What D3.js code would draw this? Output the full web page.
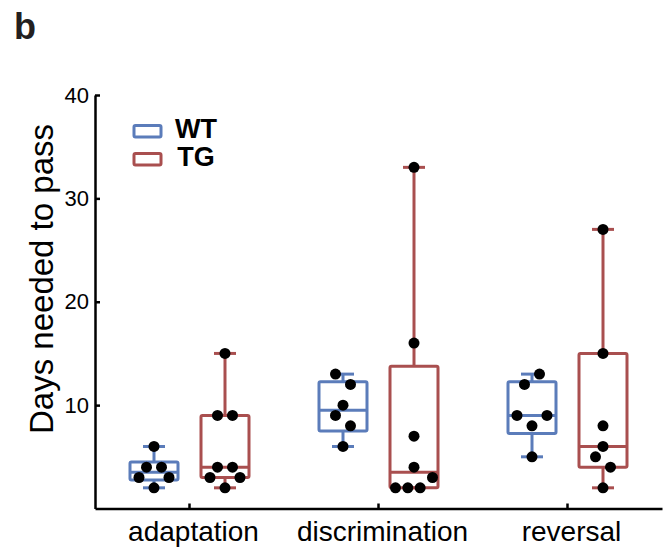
<!DOCTYPE html>
<html>
<head>
<meta charset="utf-8">
<script src="https://cdn.jsdelivr.net/npm/d3@7"></script>
<style>
  html, body { margin: 0; padding: 0; background: #fff; }
  svg { display: block; font-family: "Liberation Sans", Arial, Helvetica, sans-serif; }
</style>
</head>
<body>
<svg id="chart" width="669" height="551"></svg>
<script>
// Days needed to pass each training stage, per animal
const categories = ["adaptation", "discrimination", "reversal"];
const groups = ["WT", "TG"];
const wtValues = [
  [6, 4, 4, 3, 2, 3],
  [13, 12, 10, 9, 8, 6],
  [12, 13, 9, 8, 9, 5]
];
const tgValues = [
  [15, 9, 9, 4, 4, 3, 2, 3],
  [33, 16, 7, 4, 2, 2, 2, 3],
  [27, 15, 8, 6, 5, 4, 2]
];
const yTicks = [10, 20, 30, 40];
const groupColors = ["#5b7cba", "#a94f4f"];

const svg = d3.select("#chart");

const y = d3.scaleLinear().domain([0, 40]).range([508.5, 95]);
const x = d3.scaleBand().domain(categories).range([95, 662]).padding(0);
const xSub = d3.scalePoint().domain(groups).range([-35.5, 35.5]);
const color = d3.scaleOrdinal().domain(groups).range(groupColors);

// quartiles using the (n+1)p position rule
function quantile(sorted, p) {
  const n = sorted.length;
  const pos = p * (n + 1);
  if (pos <= 1) return sorted[0];
  if (pos >= n) return sorted[n - 1];
  const lo = Math.floor(pos);
  const f = pos - lo;
  return sorted[lo - 1] + f * (sorted[lo] - sorted[lo - 1]);
}

// one record per box
const boxes = [];
categories.forEach((cat, ci) => {
  [wtValues[ci], tgValues[ci]].forEach((vals, gi) => {
    const s = vals.slice().sort(d3.ascending);
    boxes.push({
      cat, group: groups[gi], values: vals,
      min: s[0], max: s[s.length - 1],
      q1: quantile(s, 0.25), med: d3.median(s), q3: quantile(s, 0.75)
    });
  });
});

// spread points that share a 2-day bin side by side
function spread(vals) {
  const bins = d3.group(vals, v => Math.floor(v / 2));
  const out = [];
  for (const [, members] of bins) {
    const n = members.length;
    const sp = n > 1 ? Math.min(15, 37 / (n - 1)) : 0;
    members.forEach((v, k) => out.push({ v, dx: (k - (n - 1) / 2) * sp }));
  }
  return out;
}

const boxW = 48, capW = 22, lw = 3;

const g = svg.append("g");
const bx = g.selectAll("g.box").data(boxes).join("g")
  .attr("class", "box")
  .attr("transform", d => `translate(${x(d.cat) + x.bandwidth() / 2 + xSub(d.group)},0)`)
  .attr("stroke", d => color(d.group))
  .attr("stroke-width", lw)
  .attr("fill", "none");

// whiskers
bx.append("line").attr("x1", 0).attr("x2", 0)
  .attr("y1", d => y(d.q3)).attr("y2", d => y(d.max));
bx.append("line").attr("x1", 0).attr("x2", 0)
  .attr("y1", d => y(d.q1)).attr("y2", d => y(d.min));
bx.append("line").attr("x1", -capW / 2).attr("x2", capW / 2)
  .attr("y1", d => y(d.max)).attr("y2", d => y(d.max));
bx.append("line").attr("x1", -capW / 2).attr("x2", capW / 2)
  .attr("y1", d => y(d.min)).attr("y2", d => y(d.min));
// box and median
bx.append("rect")
  .attr("x", -boxW / 2).attr("width", boxW)
  .attr("y", d => y(d.q3)).attr("height", d => y(d.q1) - y(d.q3))
  .attr("rx", 1.5).attr("stroke-linejoin", "round");
bx.append("line").attr("x1", -boxW / 2).attr("x2", boxW / 2)
  .attr("y1", d => y(d.med)).attr("y2", d => y(d.med));

// individual animals
bx.selectAll("circle").data(d => spread(d.values)).join("circle")
  .attr("cx", d => d.dx).attr("cy", d => y(d.v))
  .attr("r", 5.5).attr("fill", "#000").attr("stroke", "none");

// axes
const yAxis = svg.append("g").attr("transform", "translate(95,0)")
  .call(d3.axisLeft(y).tickValues(yTicks).tickSizeInner(-5).tickSizeOuter(0).tickPadding(6));
const xAxis = svg.append("g").attr("transform", `translate(0,${y(0)})`)
  .call(d3.axisBottom(x).tickSizeInner(-5).tickSizeOuter(0).tickPadding(13));
[yAxis, xAxis].forEach(a => {
  a.select(".domain").attr("stroke", "#000").attr("stroke-width", 2.5);
  a.selectAll(".tick line").attr("stroke", "#000").attr("stroke-width", 2.5);
  a.selectAll("text").attr("fill", "#000").attr("font-family", null);
});
yAxis.attr("font-size", 22);
xAxis.attr("font-size", 28);
xAxis.selectAll(".tick text").attr("dx", 4);

// axis title
svg.append("text")
  .attr("transform", "translate(53,279) rotate(-90)")
  .attr("text-anchor", "middle")
  .attr("font-size", 33)
  .attr("fill", "#000")
  .text("Days needed to pass");

// panel letter
svg.append("text")
  .attr("x", 14).attr("y", 39)
  .attr("font-size", 36).attr("font-weight", "bold")
  .attr("fill", "#231f20")
  .text("b");

// legend
const legend = svg.append("g").selectAll("g").data(groups).join("g")
  .attr("transform", (d, i) => `translate(134,${125.5 + i * 28})`);
legend.append("rect")
  .attr("width", 27).attr("height", 11.5).attr("rx", 1.5)
  .attr("fill", "none").attr("stroke", d => color(d)).attr("stroke-width", lw);
legend.append("text")
  .attr("x", 62).attr("y", 12.5)
  .attr("text-anchor", "middle")
  .attr("font-size", 27).attr("font-weight", "bold").attr("fill", "#000")
  .text(d => d);
</script>
</body>
</html>
